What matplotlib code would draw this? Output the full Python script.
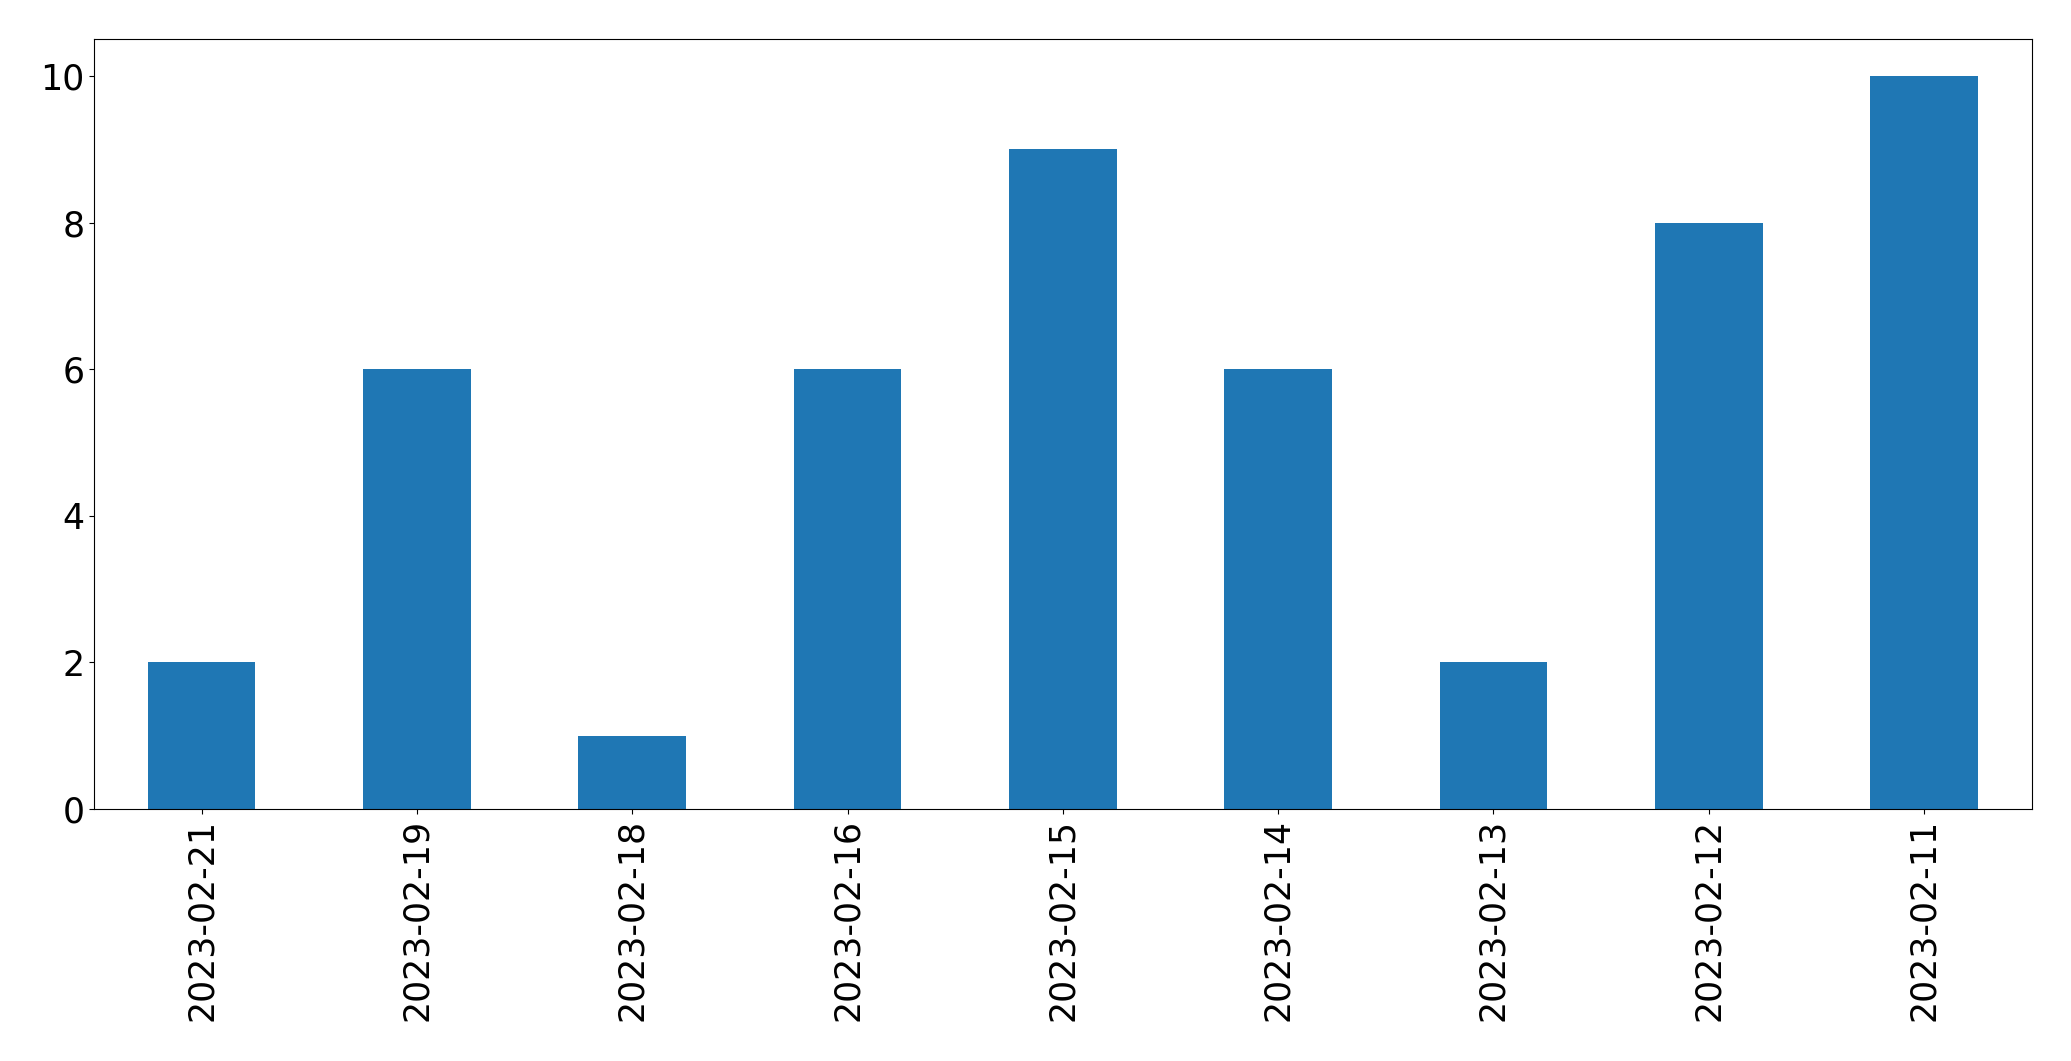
import pandas as pd
from matplotlib import pyplot as plt

# Counts per day, in the order shown.
dates = ['2023-02-21', '2023-02-19', '2023-02-18', '2023-02-16', '2023-02-15',
         '2023-02-14', '2023-02-13', '2023-02-12', '2023-02-11']
counts = [2, 6, 1, 6, 9, 6, 2, 8, 10]

s = pd.Series(counts, index=dates)

fig = plt.figure(dpi=100, figsize=(20.71, 10.61))
ax = fig.add_subplot(111)
s.plot(kind='bar', ax=ax, color='#1f77b4')

ax.tick_params(axis='both', which='major', labelsize=25)
fig.subplots_adjust(left=0.0454, right=0.981, top=0.963, bottom=0.2375)

plt.savefig('out.png')
